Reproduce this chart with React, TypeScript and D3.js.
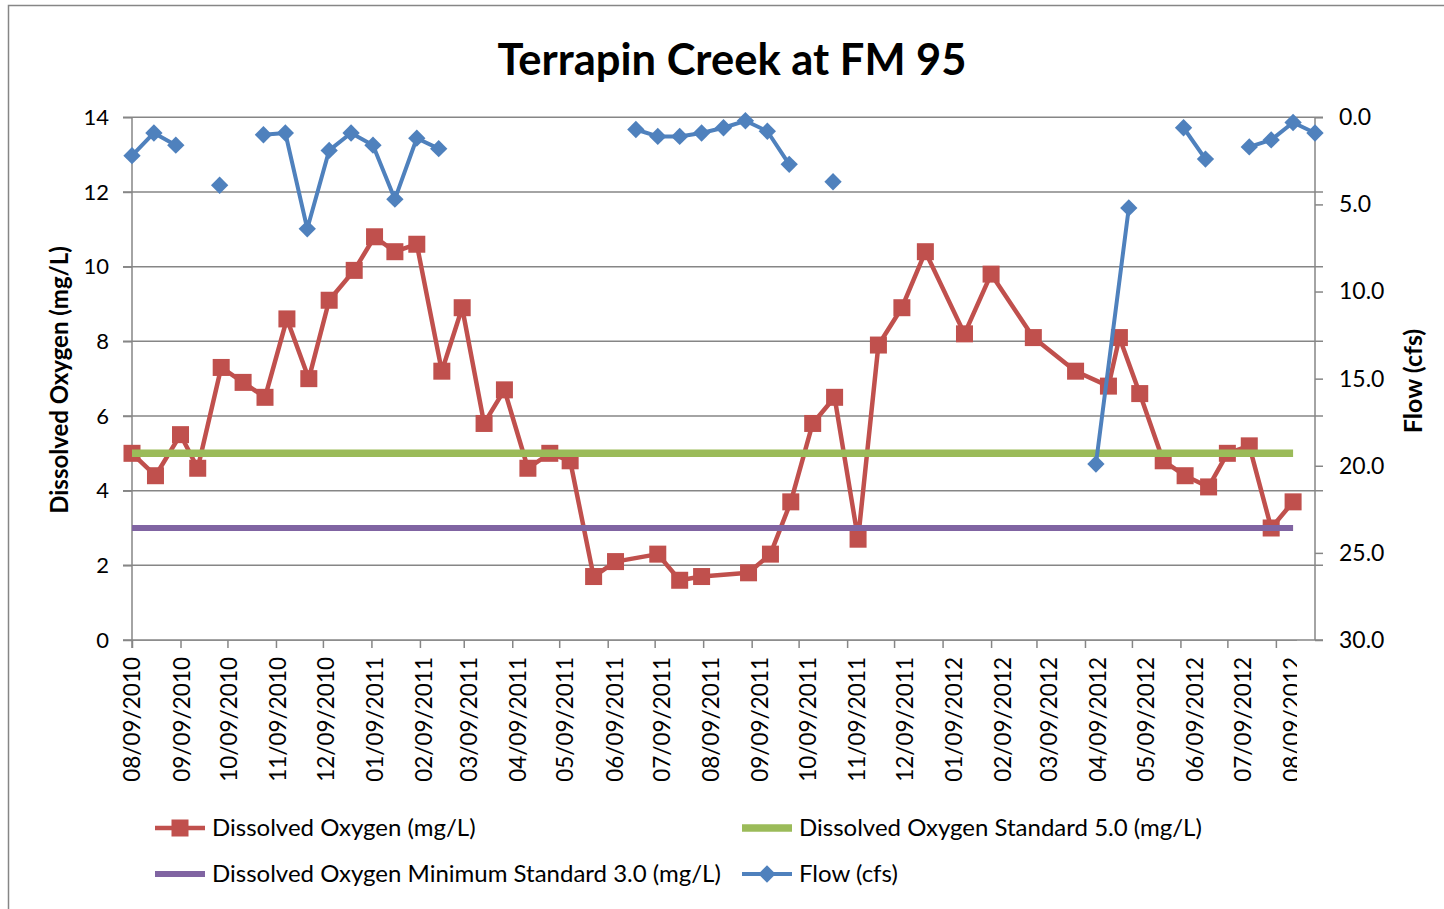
import { useEffect, useRef } from "react";
import * as d3 from "d3";

// sample dates and readings
const doDates = [
  "2010-08-09", "2010-08-24", "2010-09-09", "2010-09-20", "2010-10-05", "2010-10-19",
  "2010-11-02", "2010-11-16", "2010-11-30", "2010-12-13", "2010-12-29", "2011-01-11",
  "2011-01-24", "2011-02-07", "2011-02-23", "2011-03-08", "2011-03-22", "2011-04-04",
  "2011-04-19", "2011-05-03", "2011-05-16", "2011-05-31", "2011-06-14", "2011-07-11",
  "2011-07-25", "2011-08-08", "2011-09-07", "2011-09-21", "2011-10-04", "2011-10-18",
  "2011-11-01", "2011-11-16", "2011-11-29", "2011-12-14", "2011-12-29", "2012-01-23",
  "2012-02-09", "2012-03-07", "2012-04-03", "2012-04-24", "2012-05-01", "2012-05-14",
  "2012-05-29", "2012-06-12", "2012-06-27", "2012-07-09", "2012-07-23", "2012-08-06",
  "2012-08-20",
];
const doValues = [
  5.0, 4.4, 5.5, 4.6, 7.3, 6.9, 6.5, 8.6, 7.0, 9.1, 9.9, 10.8, 10.4, 10.6, 7.2, 8.9,
  5.8, 6.7, 4.6, 5.0, 4.8, 1.7, 2.1, 2.3, 1.6, 1.7, 1.8, 2.3, 3.7, 5.8, 6.5, 2.7, 7.9,
  8.9, 10.4, 8.2, 9.8, 8.1, 7.2, 6.8, 8.1, 6.6, 4.8, 4.4, 4.1, 5.0, 5.2, 3.0, 3.7,
];
const flowDates = [
  "2010-08-09", "2010-08-23", "2010-09-06", "2010-09-20", "2010-10-04", "2010-10-18",
  "2010-11-01", "2010-11-15", "2010-11-29", "2010-12-13", "2010-12-27", "2011-01-10",
  "2011-01-24", "2011-02-07", "2011-02-21", "2011-03-07", "2011-06-27", "2011-07-11",
  "2011-07-25", "2011-08-08", "2011-08-22", "2011-09-05", "2011-09-19", "2011-10-03",
  "2011-10-17", "2011-10-31", "2011-11-14", "2012-04-16", "2012-05-07", "2012-05-21",
  "2012-06-11", "2012-06-25", "2012-07-09", "2012-07-23", "2012-08-06", "2012-08-20",
  "2012-09-03",
];
const flowValues = [
  2.2, 0.9, 1.6, null, 3.9, null, 1.0, 0.9, 6.4, 1.9, 0.9, 1.6, 4.7, 1.2, 1.8, null,
  0.7, 1.1, 1.1, 0.9, 0.6, 0.2, 0.8, 2.7, null, 3.7, null, 19.9, 5.2, null, 0.6, 2.4,
  null, 1.7, 1.3, 0.3, 0.9,
];
const standardDO = 5.0;
const minimumDO = 3.0;
const doTicks = [0, 2, 4, 6, 8, 10, 12, 14];
const flowTicks = [0, 5, 10, 15, 20, 25, 30];
const axisStart = "2010-08-09";
const axisEnd = "2012-09-03";
const monthTickCount = 25;

const title = "Terrapin Creek at FM 95";
const legendLabels = [
  "Dissolved Oxygen (mg/L)",
  "Dissolved Oxygen Standard 5.0 (mg/L)",
  "Dissolved Oxygen Minimum Standard 3.0 (mg/L)",
  "Flow (cfs)",
];

const RED = "#C0504D";
const GREEN = "#9BBB59";
const PURPLE = "#8064A2";
const BLUE = "#4F81BD";
const GRID = "#868686";
const FONT = "Lato, 'Open Sans', sans-serif";

const App = () => {
  const ref = useRef<SVGSVGElement>(null);

  useEffect(() => {
    const svg = d3.select(ref.current);
    svg.selectAll("*").remove();

    const left = 132, right = 1315, top = 117.3, bottom = 640;
    const parse = d3.utcParse("%Y-%m-%d");

    const x = d3.scaleUtc().domain([parse(axisStart)!, parse(axisEnd)!]).range([left, right]);
    const yDO = d3.scaleLinear().domain([0, 14]).range([bottom, top]);
    const yFlow = d3.scaleLinear().domain([0, 30]).range([top, bottom]);

    const doData = doDates.map((d, i) => ({ date: parse(d)!, v: doValues[i] }));
    const flowData = flowDates.map((d, i) => ({ date: parse(d)!, v: flowValues[i] }));
    const monthTicks = d3.range(monthTickCount).map((i) => d3.utcMonth.offset(parse(axisStart)!, i));

    // chart area border
    svg.append("rect")
      .attr("x", 8.5).attr("y", 5.5).attr("width", 1450).attr("height", 920)
      .attr("fill", "#fff").attr("stroke", GRID).attr("stroke-width", 1.5);

    // gridlines
    svg.append("g")
      .selectAll("line")
      .data(doTicks)
      .enter()
      .append("line")
      .attr("x1", left - 9).attr("x2", right + 8)
      .attr("y1", (d) => yDO(d)).attr("y2", (d) => yDO(d))
      .attr("stroke", GRID).attr("stroke-width", 1.5);

    // left axis
    const gLeft = svg.append("g").attr("transform", `translate(${left},0)`)
      .call(d3.axisLeft(yDO).tickValues(doTicks).tickSize(9).tickPadding(14).tickFormat(d3.format("d")));
    gLeft.selectAll(".domain").attr("stroke", GRID).attr("stroke-width", 1.5).attr("d", `M0,${top}V${bottom + 8}`);
    gLeft.selectAll("line").attr("stroke", GRID).attr("stroke-width", 1.5);
    gLeft.selectAll("text").style("font-family", FONT).style("font-size", "22px").attr("fill", "#000");

    // right axis
    const gRight = svg.append("g").attr("transform", `translate(${right},0)`)
      .call(d3.axisRight(yFlow).tickValues(flowTicks).tickSize(8).tickPadding(16).tickFormat(d3.format(".1f")));
    gRight.selectAll(".domain").attr("stroke", GRID).attr("stroke-width", 1.5).attr("d", `M0,${top}V${bottom}`);
    gRight.selectAll("line").attr("stroke", GRID).attr("stroke-width", 1.5);
    gRight.selectAll("text").style("font-family", FONT).style("font-size", "23px").attr("fill", "#000");

    // bottom date axis (labels drift slightly right, as in the original export)
    svg.append("defs").append("clipPath").attr("id", "xclip")
      .append("rect").attr("x", 0).attr("y", 0).attr("width", 1297).attr("height", 909);
    const gBottom = svg.append("g").attr("transform", `translate(0,${bottom})`)
      .call(d3.axisBottom(x).tickValues(monthTicks).tickSize(8).tickFormat(d3.utcFormat("%m/%d/%Y") as any));
    gBottom.selectAll(".domain").attr("stroke", GRID).attr("stroke-width", 1.5).attr("d", `M${left},0H${right}`);
    gBottom.selectAll("line").attr("stroke", GRID).attr("stroke-width", 1.5);
    gBottom.attr("clip-path", "url(#xclip)");
    gBottom.selectAll("text")
      .style("font-family", FONT).style("font-size", "22.5px").attr("fill", "#000")
      .attr("transform", (_d, i) => `translate(${i * 0.65},0) rotate(-90)`)
      .attr("text-anchor", "end")
      .attr("x", -17).attr("y", 0).attr("dy", "0.35em");

    // DO series
    const doLine = d3.line<{ date: Date; v: number }>().x((d) => x(d.date)).y((d) => yDO(d.v));
    svg.append("path").datum(doData)
      .attr("d", doLine).attr("fill", "none").attr("stroke", RED)
      .attr("stroke-width", 4.5).attr("stroke-linejoin", "round");
    svg.append("g").selectAll("rect").data(doData).enter().append("rect")
      .attr("x", (d) => x(d.date) - 8.5).attr("y", (d) => yDO(d.v) - 8.5)
      .attr("width", 17).attr("height", 17).attr("fill", RED);

    // standards
    const first = doData[0].date, last = doData[doData.length - 1].date;
    [[standardDO, GREEN, 7.5], [minimumDO, PURPLE, 6]].forEach(([v, c, w]) => {
      svg.append("line")
        .attr("x1", x(first)).attr("x2", x(last))
        .attr("y1", yDO(v as number)).attr("y2", yDO(v as number))
        .attr("stroke", c as string).attr("stroke-width", w as number);
    });

    // flow series
    const flowLine = d3.line<{ date: Date; v: number | null }>()
      .defined((d) => d.v !== null)
      .x((d) => x(d.date)).y((d) => yFlow(d.v as number));
    svg.append("path").datum(flowData)
      .attr("d", flowLine).attr("fill", "none").attr("stroke", BLUE)
      .attr("stroke-width", 4).attr("stroke-linejoin", "round");
    const diamond = d3.symbol().type(d3.symbolSquare).size(150);
    svg.append("g").selectAll("path").data(flowData.filter((d) => d.v !== null)).enter().append("path")
      .attr("d", diamond)
      .attr("transform", (d) => `translate(${x(d.date)},${yFlow(d.v as number)}) rotate(45)`)
      .attr("fill", BLUE);

    // title and axis titles
    svg.append("text").attr("x", 732).attr("y", 75).attr("text-anchor", "middle")
      .style("font-family", FONT).style("font-size", "43.5px").style("font-weight", "bold")
      .text(title);
    svg.append("text").attr("transform", `translate(60,380) rotate(-90)`)
      .attr("text-anchor", "middle").attr("dy", "0.35em")
      .style("font-family", FONT).style("font-size", "24px").style("font-weight", "bold")
      .text("Dissolved Oxygen (mg/L)");
    svg.append("text").attr("transform", `translate(1413,381) rotate(-90)`)
      .attr("text-anchor", "middle").attr("dy", "0.35em")
      .style("font-family", FONT).style("font-size", "25px").style("font-weight", "bold")
      .text("Flow (cfs)");

    // legend
    const legendPos = [
      { x: 155, y: 828 }, { x: 742, y: 828 }, { x: 155, y: 874 }, { x: 742, y: 874 },
    ];
    const legendColors = [RED, GREEN, PURPLE, BLUE];
    const legendWidths = [4.5, 7.5, 6, 4];
    legendLabels.forEach((label, i) => {
      const p = legendPos[i];
      const g = svg.append("g").attr("transform", `translate(${p.x},${p.y})`);
      g.append("line").attr("x1", 0).attr("x2", 50).attr("y1", 0).attr("y2", 0)
        .attr("stroke", legendColors[i]).attr("stroke-width", legendWidths[i]);
      if (i === 0) {
        g.append("rect").attr("x", 25 - 8.5).attr("y", -8.5).attr("width", 17).attr("height", 17).attr("fill", RED);
      }
      if (i === 3) {
        g.append("path").attr("d", diamond).attr("transform", "translate(25,0) rotate(45)").attr("fill", BLUE);
      }
      g.append("text").attr("x", 57).attr("y", 0).attr("dy", "0.35em")
        .style("font-family", FONT).style("font-size", "24px")
        .text(label);
    });
  }, []);

  return (
    <svg
      ref={ref}
      width={1444}
      height={909}
      style={{ position: "absolute", left: 0, top: 0, background: "#fff" }}
    />
  );
};

export default App;
